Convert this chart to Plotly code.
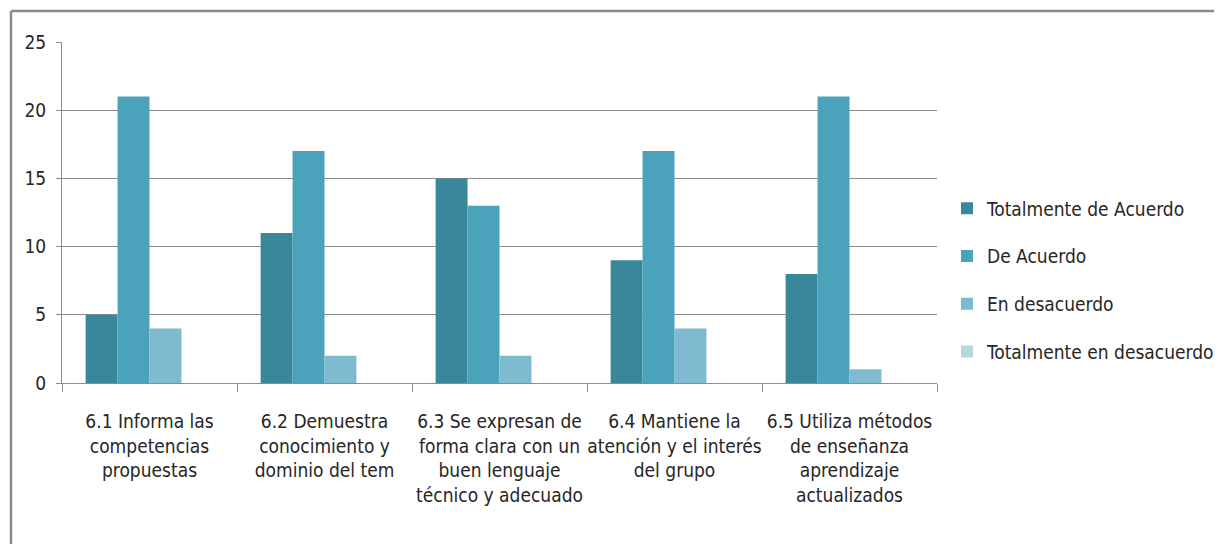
import plotly.graph_objects as go

categories = [
    "6.1 Informa las<br>competencias<br>propuestas",
    "6.2 Demuestra<br>conocimiento y<br>dominio del tem",
    "6.3 Se expresan de<br>forma clara con un<br>buen lenguaje<br>técnico y adecuado",
    "6.4 Mantiene la<br>atención y el interés<br>del grupo",
    "6.5 Utiliza métodos<br>de enseñanza<br>aprendizaje<br>actualizados",
]
series_names = ["Totalmente de Acuerdo", "De Acuerdo", "En desacuerdo", "Totalmente en desacuerdo"]
totalmente_de_acuerdo = [5, 11, 15, 9, 8]
de_acuerdo = [21, 17, 13, 17, 21]
en_desacuerdo = [4, 2, 2, 4, 1]
totalmente_en_desacuerdo = [0, 0, 0, 0, 0]
y_ticks = [0, 5, 10, 15, 20, 25]

colors = ["#38879B", "#4AA3BB", "#7FBBD0", "#B3D6E2"]
values = [totalmente_de_acuerdo, de_acuerdo, en_desacuerdo, totalmente_en_desacuerdo]

FONT = "DejaVu Sans Condensed, Liberation Sans, sans-serif"
FS = 19
TXT = "#262626"
GRID = "#8C8C8C"

fig = go.Figure()
for i, (name, vals) in enumerate(zip(series_names, values)):
    fig.add_trace(go.Bar(
        x=categories, y=vals, name=name, marker_color=colors[i],
        marker_line_width=0, legendgroup=str(i),
    ))

# page body has an 8px margin: work in figure coordinates
OFF = 8
W, H = 1222 - OFF, 544 - OFF
L, R, T, B = 62 - OFF, 937 - OFF, 42 - OFF, 383 - OFF
fig.update_layout(
    template="none",
    width=W, height=H,
    margin=dict(l=L, r=W - R, t=T, b=H - B, pad=0, autoexpand=False),
    paper_bgcolor="white", plot_bgcolor="white",
    barmode="group", bargap=0.27, bargroupgap=0,
    font=dict(family=FONT, size=FS, color=TXT),
    showlegend=True,
    legend=dict(
        x=(947 - OFF - L) / (R - L), xanchor="left",
        y=(B - (280 - OFF)) / (B - T), yanchor="middle",
        traceorder="grouped", tracegroupgap=20,
        font=dict(family=FONT, size=FS, color=TXT),
        bgcolor="rgba(0,0,0,0)", borderwidth=0,
    ),
    xaxis=dict(
        type="category", showgrid=False, showline=True, linecolor=GRID, linewidth=1,
        ticks="outside", tickson="boundaries", ticklen=8, tickcolor=GRID, tickwidth=1,
        ticklabelstandoff=21, tickangle=0, automargin=False,
        tickfont=dict(family=FONT, size=FS, color=TXT),
    ),
    yaxis=dict(
        range=[0, 25], tickvals=y_ticks, showgrid=True, gridcolor=GRID, gridwidth=1,
        showline=True, linecolor=GRID, linewidth=1, zeroline=False,
        ticks="outside", ticklen=5, tickcolor=GRID, tickwidth=1, ticklabelstandoff=6,
        automargin=False,
        tickfont=dict(family=FONT, size=FS, color=TXT),
    ),
)

# outer chart border (top and left visible)
bx = (11 - OFF - L) / (R - L)
by = (B - (11 - OFF)) / (B - T)
fig.add_shape(type="line", xref="paper", yref="paper", x0=bx, x1=bx, y0=by, y1=-1,
              line=dict(color="#8A8A8A", width=2.5))
fig.add_shape(type="line", xref="paper", yref="paper", x0=bx, x1=2, y0=by, y1=by,
              line=dict(color="#8A8A8A", width=2.5))

fig.write_html("out.html")
